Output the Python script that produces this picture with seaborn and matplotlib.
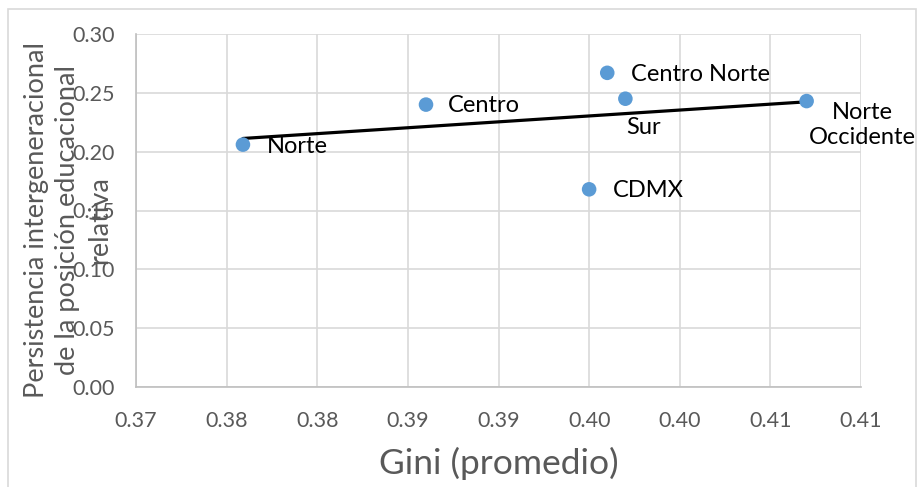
import numpy as np
import pandas as pd
import matplotlib
matplotlib.use("Agg")
import matplotlib.pyplot as plt
import seaborn as sns

# data
regions = ["Norte", "Centro", "CDMX", "Centro Norte", "Sur", "Norte\nOccidente"]
gini = [0.3759, 0.3860, 0.3950, 0.3960, 0.3970, 0.4070]
persistence = [0.206, 0.240, 0.168, 0.267, 0.245, 0.243]

x_ticks = [0.370, 0.375, 0.380, 0.385, 0.390, 0.395, 0.400, 0.405, 0.410]
x_tick_labels = ["0.37", "0.38", "0.38", "0.39", "0.39", "0.40", "0.40", "0.41", "0.41"]
y_ticks = [0.00, 0.05, 0.10, 0.15, 0.20, 0.25, 0.30]

df = pd.DataFrame({"region": regions, "gini": gini, "persistence": persistence})

sns.set_style("white")
plt.rcParams["font.family"] = ["Lato", "DejaVu Sans"]

fig = plt.figure(figsize=(9.18, 4.87), dpi=100)
ax = fig.add_axes([136 / 918, 1 - 387 / 487, (861 - 136) / 918, (387 - 34) / 487])

# light chart-area border like the Excel frame
fig.patches.append(plt.Rectangle((8 / 918, -0.01), 908 / 918, 1 - 9 / 487 + 0.01,
                                 transform=fig.transFigure, fill=False,
                                 edgecolor="#D9D9D9", linewidth=1.2))

# linear trend over the data range
slope, intercept = np.polyfit(df["gini"], df["persistence"], 1)
xs = np.array([df["gini"].min(), df["gini"].max()])
ax.plot(xs, slope * xs + intercept, color="black", linewidth=2.3, zorder=3)

sns.scatterplot(data=df, x="gini", y="persistence", ax=ax, color="#5B9BD5",
                s=110, edgecolor="none", zorder=4)

# label placements (offsets in points)
offsets = [(17, -1.5), (16, -1), (17, -1), (17, -1), (13, -21), (40, -17)]
aligns = ["left", "left", "left", "left", "center", "center"]
for (xo, yo), ha, name, gx, py in zip(offsets, aligns, regions, gini, persistence):
    ax.annotate(name, (gx, py), xytext=(xo, yo), textcoords="offset points",
                ha=ha, va="center", fontsize=17, color="black",
                linespacing=1.25, multialignment="center")

ax.set_xlim(0.370, 0.410)
ax.set_ylim(0.0, 0.30)
ax.set_xticks(x_ticks)
ax.set_xticklabels(x_tick_labels)
ax.set_yticks(y_ticks)
ax.set_yticklabels([f"{v:.2f}" for v in y_ticks])
ax.tick_params(axis="both", length=0, labelsize=15.5, colors="#595959")
ax.tick_params(axis="x", pad=17)
ax.tick_params(axis="y", pad=15)

ax.grid(True, color="#D9D9D9", linewidth=1.2)
ax.set_axisbelow(True)
for side in ["top", "right"]:
    ax.spines[side].set_visible(False)
for side in ["left", "bottom"]:
    ax.spines[side].set_color("#BFBFBF")
    ax.spines[side].set_linewidth(1.2)

ax.set_xlabel("Gini (promedio)", fontsize=25.5, color="#595959", labelpad=12)
ax.set_ylabel("Persistencia intergeneracional\nde la posición educacional\nrelativa",
              fontsize=19.5, color="#595959", linespacing=1.33)
ax.yaxis.label.set_va("center")
ax.yaxis.set_label_coords((68 - 136) / 725, (387 - 220) / 353)

fig.savefig("out.png", dpi=100)
